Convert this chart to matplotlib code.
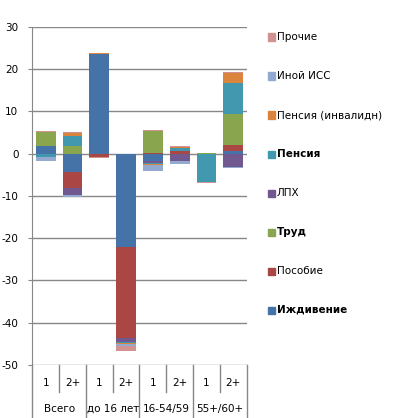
import numpy as np
import matplotlib.pyplot as plt
from matplotlib.patches import Rectangle
from matplotlib.transforms import blended_transform_factory

# Подписи оси X (два уровня)
sub_labels = ["1", "2+", "1", "2+", "1", "2+", "1", "2+"]
group_labels = ["Всего", "до 16 лет", "16-54/59", "55+/60+"]

series_names = ["Иждивение", "Пособие", "Труд", "ЛПХ", "Пенсия",
                "Пенсия (инвалидн)", "Иной ИСС", "Прочие"]
series_bold = [True, False, True, False, True, False, False, False]
series_colors = ["#4572A7", "#AA4643", "#89A54E", "#71588F", "#4198AF",
                 "#DB843D", "#93A9CF", "#D19392"]

izhdivenie = [1.8, -4.25, 23.5, -22.1, -1.8, -0.2, 0.0, 0.65]
posobie = [0.0, -3.8, -0.7, -21.5, 0.25, 0.6, 0.0, 1.4]
trud = [3.4, 1.9, 0.0, 0.0, 5.1, 0.0, 0.1, 7.4]
lph = [-0.2, -1.7, 0.0, -1.0, -0.4, -1.5, 0.0, -3.1]
pensiya = [-0.5, 2.35, 0.0, -0.3, -0.15, 0.75, -6.7, 7.35]
pensiya_inv = [0.0, 0.6, 0.3, -0.1, -0.3, 0.2, 0.15, 2.3]
inoy_iss = [-1.0, -0.5, 0.0, -0.4, -1.4, -0.7, 0.0, -0.3]
prochie = [0.2, 0.25, -0.3, -1.2, 0.25, 0.25, -0.25, 0.2]

series_values = [izhdivenie, posobie, trud, lph, pensiya,
                 pensiya_inv, inoy_iss, prochie]

plt.rcParams["font.family"] = "DejaVu Sans"
plt.rcParams["axes.unicode_minus"] = False
FS = 7.5
GRID = "#878787"

fig = plt.figure(figsize=(3.96, 4.18), dpi=100)
W, H = 396, 418
ax = fig.add_axes([32.3 / W, 1 - 365 / H, (246.7 - 32.3) / W, (365 - 26.7) / H])

x = np.arange(len(sub_labels))
pos_bottom = np.zeros(len(x))
neg_bottom = np.zeros(len(x))
for vals, col in zip(series_values, series_colors):
    v = np.array(vals, dtype=float)
    bottom = np.where(v >= 0, pos_bottom, neg_bottom)
    ax.bar(x, v, 0.74, bottom=bottom, color=col, linewidth=0, zorder=3)
    pos_bottom += np.where(v >= 0, v, 0)
    neg_bottom += np.where(v < 0, v, 0)

ax.set_xlim(-0.5, len(x) - 0.5)
ax.set_ylim(-50, 30)
ax.set_yticks(np.arange(-50, 31, 10))
ax.yaxis.grid(True, color=GRID, linewidth=1.0, zorder=0)
ax.tick_params(axis="y", length=3, color=GRID, pad=7, labelsize=FS)
ax.tick_params(axis="x", length=0, labelbottom=False)
for s in ["top", "right", "bottom"]:
    ax.spines[s].set_visible(False)
ax.spines["left"].set_color(GRID)
ax.spines["left"].set_zorder(4)

# двухуровневая ось категорий
tr = blended_transform_factory(ax.transData, ax.transAxes)
y_short = -26.7 / 338.3
y_long = -53.0 / 338.3
for i in range(len(x) + 1):
    xe = i - 0.5
    y_end = y_long if i % 2 == 0 else y_short
    ax.plot([xe, xe], [0, y_end], transform=tr, color=GRID, lw=1.0,
            clip_on=False, zorder=1)
for i, lab in enumerate(sub_labels):
    ax.text(i, -18 / 338.3, lab, transform=tr, ha="center", va="center",
            fontsize=FS)
for g, lab in enumerate(group_labels):
    ax.text(2 * g + 0.5, -44 / 338.3, lab, transform=tr, ha="center",
            va="center", fontsize=FS)

# легенда (обратный порядок, как в оригинале)
for k, idx in enumerate(range(len(series_names) - 1, -1, -1)):
    yc = 37 + 39 * k
    fig.patches.append(Rectangle((268 / W, 1 - (yc + 3.5) / H), 7 / W, 7 / H,
                                 transform=fig.transFigure,
                                 color=series_colors[idx]))
    fig.text(277 / W, 1 - yc / H, series_names[idx], fontsize=FS,
             va="center", ha="left",
             fontweight="bold" if series_bold[idx] else "normal")

fig.savefig("out.png", dpi=100)
